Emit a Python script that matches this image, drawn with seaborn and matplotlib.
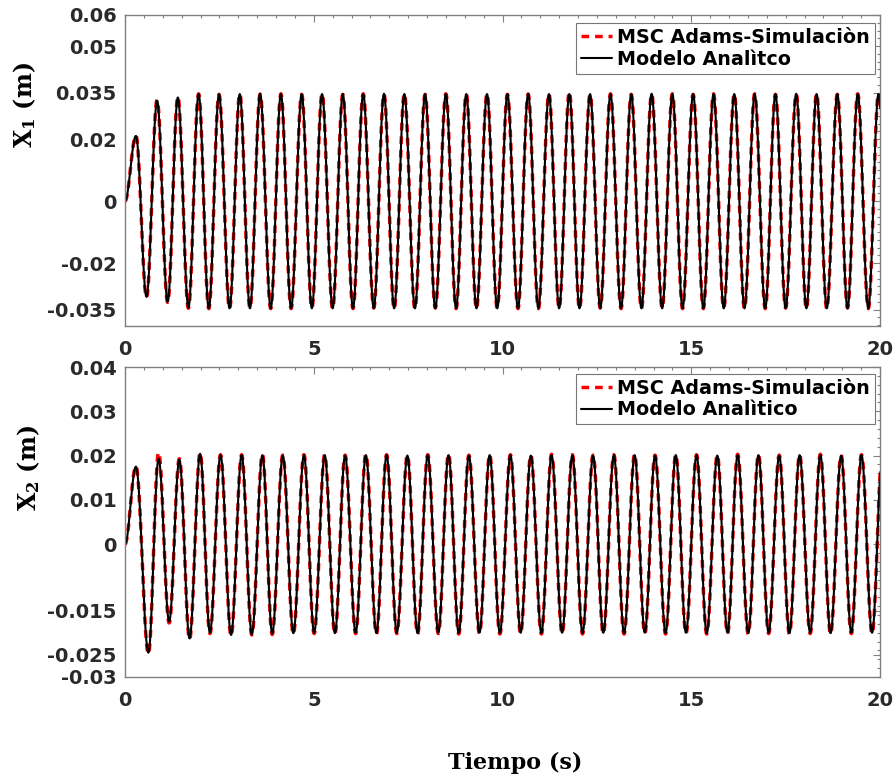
import numpy as np
import pandas as pd
import matplotlib
matplotlib.use("Agg")
import matplotlib.pyplot as plt
from matplotlib.ticker import FixedLocator, MultipleLocator
import seaborn as sns

# ---------------------------------------------------------------
# Response data: times (s) of the successive extrema of each signal
# and the displacement (m) reached there, for both solutions.
# ---------------------------------------------------------------
x1_t = [0.00, 0.29, 0.57, 0.85, 1.13, 1.40, 1.68, 1.95, 2.22, 2.49,
        2.77, 3.04, 3.31, 3.58, 3.86, 4.13, 4.40, 4.68, 4.95, 5.22,
        5.50, 5.77, 6.04, 6.31, 6.59, 6.86, 7.13, 7.40, 7.68, 7.95,
        8.22, 8.50, 8.77, 9.04, 9.31, 9.59, 9.86, 10.13, 10.41, 10.68,
        10.95, 11.23, 11.50, 11.77, 12.04, 12.32, 12.59, 12.86, 13.14, 13.41,
        13.68, 13.95, 14.23, 14.50, 14.77, 15.05, 15.32, 15.59, 15.86, 16.14,
        16.41, 16.68, 16.96, 17.23, 17.50, 17.78, 18.05, 18.32, 18.59, 18.87,
        19.14, 19.41, 19.69, 19.96, 20.23]

x1_analitico = [0.0, 0.0210, -0.0309, 0.0324, -0.0325, 0.0334, -0.0344, 0.0345, -0.0346, 0.0345,
                -0.0346, 0.0345, -0.0346, 0.0346, -0.0346, 0.0345, -0.0346, 0.0345, -0.0346, 0.0345,
                -0.0346, 0.0345, -0.0346, 0.0345, -0.0346, 0.0346, -0.0346, 0.0345, -0.0346, 0.0345,
                -0.0346, 0.0345, -0.0346, 0.0345, -0.0346, 0.0345, -0.0346, 0.0345, -0.0346, 0.0346,
                -0.0346, 0.0345, -0.0346, 0.0345, -0.0346, 0.0345, -0.0346, 0.0345, -0.0346, 0.0345,
                -0.0346, 0.0346, -0.0346, 0.0345, -0.0346, 0.0345, -0.0346, 0.0345, -0.0346, 0.0345,
                -0.0346, 0.0345, -0.0346, 0.0345, -0.0346, 0.0346, -0.0346, 0.0345, -0.0346, 0.0345,
                -0.0346, 0.0345, -0.0346, 0.0345, -0.0346]

x1_adams = [0.0, 0.0211, -0.0311, 0.0326, -0.0327, 0.0336, -0.0346, 0.0346, -0.0347, 0.0344,
            -0.0347, 0.0346, -0.0345, 0.0345, -0.0347, 0.0346, -0.0347, 0.0344, -0.0345, 0.0346,
            -0.0347, 0.0344, -0.0347, 0.0346, -0.0345, 0.0345, -0.0347, 0.0346, -0.0347, 0.0344,
            -0.0345, 0.0346, -0.0347, 0.0345, -0.0347, 0.0346, -0.0345, 0.0344, -0.0347, 0.0345,
            -0.0347, 0.0346, -0.0345, 0.0352, -0.0347, 0.0344, -0.0345, 0.0346, -0.0347, 0.0344,
            -0.0347, 0.0345, -0.0345, 0.0346, -0.0347, 0.0344, -0.0347, 0.0346, -0.0345, 0.0345,
            -0.0347, 0.0346, -0.0347, 0.0344, -0.0345, 0.0345, -0.0347, 0.0346, -0.0347, 0.0344,
            -0.0345, 0.0346, -0.0347, 0.0345, -0.0347]

x2_t = [0.00, 0.29, 0.62, 0.89, 1.17, 1.44, 1.71, 1.99, 2.25, 2.53,
        2.81, 3.09, 3.36, 3.64, 3.90, 4.18, 4.46, 4.74, 5.01, 5.29,
        5.56, 5.83, 6.11, 6.38, 6.66, 6.93, 7.20, 7.48, 7.75, 8.02,
        8.30, 8.57, 8.84, 9.11, 9.39, 9.66, 9.93, 10.21, 10.48, 10.75,
        11.03, 11.30, 11.58, 11.85, 12.12, 12.40, 12.67, 12.95, 13.22, 13.50,
        13.77, 14.04, 14.32, 14.59, 14.86, 15.14, 15.41, 15.69, 15.96, 16.23,
        16.51, 16.78, 17.05, 17.33, 17.60, 17.87, 18.15, 18.42, 18.69, 18.97,
        19.24, 19.51, 19.79, 20.06]

x2_analitico = [0.0, 0.0175, -0.0245, 0.0193, -0.0175, 0.0191, -0.0213, 0.0204, -0.0200, 0.0201,
                -0.0205, 0.0201, -0.0204, 0.0201, -0.0202, 0.0200, -0.0201, 0.0201, -0.0200, 0.0201,
                -0.0201, 0.0200, -0.0200, 0.0201, -0.0201, 0.0201, -0.0200, 0.0200, -0.0201, 0.0201,
                -0.0200, 0.0201, -0.0201, 0.0200, -0.0200, 0.0201, -0.0201, 0.0201, -0.0200, 0.0200,
                -0.0201, 0.0201, -0.0200, 0.0201, -0.0201, 0.0200, -0.0200, 0.0201, -0.0201, 0.0201,
                -0.0200, 0.0200, -0.0201, 0.0201, -0.0200, 0.0201, -0.0201, 0.0200, -0.0200, 0.0201,
                -0.0201, 0.0201, -0.0200, 0.0200, -0.0201, 0.0201, -0.0200, 0.0201, -0.0201, 0.0200,
                -0.0200, 0.0201, -0.0200, 0.0201]

x2_adams = [0.0, 0.0176, -0.0248, 0.0207, -0.0178, 0.0193, -0.0215, 0.0206, -0.0202, 0.0202,
            -0.0207, 0.0202, -0.0205, 0.0203, -0.0204, 0.0201, -0.0203, 0.0202, -0.0202, 0.0202,
            -0.0203, 0.0201, -0.0202, 0.0203, -0.0203, 0.0202, -0.0202, 0.0201, -0.0203, 0.0202,
            -0.0202, 0.0203, -0.0203, 0.0201, -0.0202, 0.0202, -0.0203, 0.0202, -0.0202, 0.0201,
            -0.0203, 0.0203, -0.0202, 0.0202, -0.0203, 0.0201, -0.0202, 0.0202, -0.0203, 0.0203,
            -0.0202, 0.0201, -0.0203, 0.0202, -0.0202, 0.0202, -0.0203, 0.0201, -0.0202, 0.0203,
            -0.0203, 0.0202, -0.0202, 0.0201, -0.0203, 0.0202, -0.0202, 0.0203, -0.0203, 0.0201,
            -0.0202, 0.0202, -0.0202, 0.0202]

x1_ticks = [-0.035, -0.02, 0.0, 0.02, 0.035, 0.05, 0.06]
x1_ticklabels = ["-0.035", "-0.02", "0", "0.02", "0.035", "0.05", "0.06"]
x2_ticks = [-0.03, -0.025, -0.015, 0.0, 0.01, 0.02, 0.03, 0.04]
x2_ticklabels = ["-0.03", "-0.025", "-0.015", "0", "0.01", "0.02", "0.03", "0.04"]
t_ticks = [0, 5, 10, 15, 20]

label_adams = "MSC Adams-Simulaciòn"
label_top = "Modelo Analìtco"
label_bottom = "Modelo Analìtico"


def trace(t_ext, v_ext, n=30):
    """Smooth half-cosine passage between consecutive extrema."""
    ts, vs = [], []
    for t0, t1, v0, v1 in zip(t_ext[:-1], t_ext[1:], v_ext[:-1], v_ext[1:]):
        s = np.linspace(0.0, 1.0, n, endpoint=False)
        ts.append(t0 + (t1 - t0) * s)
        vs.append(v0 + (v1 - v0) * (1.0 - np.cos(np.pi * s)) / 2.0)
    ts.append([t_ext[-1]])
    vs.append([v_ext[-1]])
    return np.concatenate(ts), np.concatenate(vs)


sns.set_style("white")
plt.rcParams["font.family"] = ["DejaVu Sans"]
plt.rcParams["font.weight"] = "bold"
plt.rcParams["mathtext.default"] = "regular"

GRAY = "#808080"
TXT = "#2a2a2a"

fig = plt.figure(figsize=(8.96, 7.81), dpi=100)
ax1 = fig.add_axes([125 / 896, 1 - 326 / 781, 755 / 896, 311 / 781])
ax2 = fig.add_axes([125 / 896, 1 - 677 / 781, 755 / 896, 310 / 781])

panels = [
    (ax1, x1_t, x1_adams, x1_analitico, label_top, (-0.0403, 0.06),
     x1_ticks, x1_ticklabels, 0.0025, "X$_1$ (m)", (-0.1325, 0.71), 0.974),
    (ax2, x2_t, x2_adams, x2_analitico, label_bottom, (-0.03, 0.04),
     x2_ticks, x2_ticklabels, 0.002, "X$_2$ (m)", (-0.128, 0.674), 0.978),
]

for (ax, t_ext, v_adams, v_anal, lab_anal, ylim, yt, ytl, ymin_step,
     ylab, ylab_xy, leg_top) in panels:
    ta, ya = trace(t_ext, v_adams)
    tb, yb = trace(t_ext, v_anal)
    df = pd.DataFrame({"t": np.concatenate([ta, tb]),
                       "x": np.concatenate([ya, yb]),
                       "serie": [label_adams] * len(ta) + [lab_anal] * len(tb)})
    sns.lineplot(data=df[df["serie"] == label_adams], x="t", y="x", ax=ax,
                 color="#ff0000", linewidth=2.5, linestyle=(0, (2.2, 1.7)),
                 estimator=None, sort=False, label=label_adams)
    sns.lineplot(data=df[df["serie"] == lab_anal], x="t", y="x", ax=ax,
                 color="black", linewidth=1.5, estimator=None, sort=False,
                 label=lab_anal)

    ax.set_xlim(0, 20)
    ax.set_ylim(*ylim)
    ax.xaxis.set_major_locator(FixedLocator(t_ticks))
    ax.set_xticklabels([str(v) for v in t_ticks])
    ax.xaxis.set_minor_locator(MultipleLocator(0.5))
    ax.yaxis.set_major_locator(FixedLocator(yt))
    ax.set_yticklabels(ytl)
    ax.yaxis.set_minor_locator(MultipleLocator(ymin_step))

    for sp in ax.spines.values():
        sp.set_color(GRAY)
        sp.set_linewidth(1.0)
    ax.tick_params(which="both", direction="in", top=True, right=True,
                   color=GRAY, width=0.8)
    ax.tick_params(which="major", length=5)
    ax.tick_params(which="minor", length=2.5)
    ax.tick_params(axis="y", which="major", pad=6, labelsize=14, labelcolor=TXT)
    ax.tick_params(axis="x", which="major", pad=10, labelsize=14, labelcolor=TXT)
    for lbl in ax.get_xticklabels() + ax.get_yticklabels():
        lbl.set_fontweight("bold")

    ax.set_xlabel("")
    ax.set_ylabel(ylab, family="DejaVu Serif", fontsize=17, fontweight="bold",
                  color="black", va="center")
    ax.yaxis.set_label_coords(*ylab_xy)

    leg = ax.legend(loc="upper right", bbox_to_anchor=(0.9934, leg_top),
                    borderaxespad=0, fancybox=False, framealpha=1,
                    edgecolor="#777777", prop={"size": 13.8, "weight": "bold"},
                    borderpad=0.25, labelspacing=0.15, handlelength=1.6,
                    handletextpad=0.3)
    leg.get_frame().set_linewidth(0.8)
    for txt in leg.get_texts():
        txt.set_color("black")

ax2.set_xlabel("Tiempo (s)", family="DejaVu Serif", fontsize=16, fontweight="bold",
               color="black", va="center")
ax2.xaxis.set_label_coords(0.5166, -0.277)

fig.savefig("out.png", dpi=100, facecolor="white")
